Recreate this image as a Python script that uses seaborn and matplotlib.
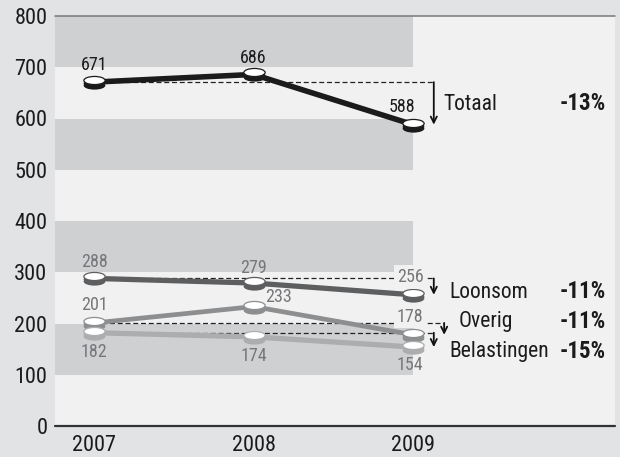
import numpy as np
import pandas as pd
import matplotlib
matplotlib.use("Agg")
import matplotlib.pyplot as plt
import matplotlib.transforms as mtransforms
from matplotlib.path import Path
from matplotlib import font_manager
import seaborn as sns

# ---------------- data ----------------
years = ["2007", "2008", "2009"]
series = ["Totaal", "Loonsom", "Overig", "Belastingen"]
totaal = [671, 686, 588]
loonsom = [288, 279, 256]
overig = [201, 233, 178]
belastingen = [182, 174, 154]
changes = ["-13%", "-11%", "-11%", "-15%"]
yticks = [0, 100, 200, 300, 400, 500, 600, 700, 800]

values = {"Totaal": totaal, "Loonsom": loonsom, "Overig": overig, "Belastingen": belastingen}

# ---------------- style ----------------
names = {f.name for f in font_manager.fontManager.ttflist}
FONT = "DejaVu Sans"
for cand in ["Roboto Condensed", "Archivo Narrow", "Barlow Semi Condensed", "Asap Condensed"]:
    if cand in names:
        FONT = cand
        break
sns.set_style("white")
plt.rcParams["font.family"] = [FONT, "DejaVu Sans"]

colors = {"Totaal": "#1b1b1b", "Loonsom": "#5d5e60", "Overig": "#8d8e90", "Belastingen": "#acadaf"}
label_colors = {"Totaal": "#1b1b1b", "Loonsom": "#76777a", "Overig": "#76777a", "Belastingen": "#76777a"}
lw = {"Totaal": 4.0, "Loonsom": 3.8, "Overig": 3.4, "Belastingen": 3.8}
OUTER = "#e2e3e5"
PANEL = "#f1f1f1"
BAND = "#cfd0d2"

fig = plt.figure(figsize=(6.2, 4.57), dpi=100, facecolor=OUTER)
ax = fig.add_axes([55 / 620, 31 / 457, 560 / 620, 410 / 457])
ax.set_facecolor(PANEL)

xs = np.arange(len(years))
ax.set_xlim(-0.2445, 3.266)
ax.set_ylim(0, 800)

# horizontal bands
for lo in [100, 300, 500, 700]:
    ax.fill_between([ax.get_xlim()[0], xs[-1]], lo, lo + 100, color=BAND, lw=0, zorder=0)

ax.axhline(800, color="#77787a", lw=1.1, zorder=1, clip_on=False)
ax.axhline(0, color="#333333", lw=1.6, zorder=1, clip_on=False)
for s in ax.spines.values():
    s.set_visible(False)

# dashed reference lines and arrows
arrow_x = {"Totaal": 2.13, "Loonsom": 2.13, "Overig": 2.195, "Belastingen": 2.13}
for name in series:
    v = values[name]
    ax.plot([xs[0], arrow_x[name]], [v[0], v[0]], ls=(0, (4, 2.2)), color="#222222", lw=0.9, zorder=1.5)
    ax.annotate("", xy=(arrow_x[name], v[-1]), xytext=(arrow_x[name], v[0]),
                arrowprops=dict(arrowstyle="->", color="#111111", lw=1.3,
                                shrinkA=0, shrinkB=0, mutation_scale=11), zorder=1.6)

# lines through seaborn
df = pd.DataFrame([(name, xs[i], values[name][i]) for name in series for i in range(len(years))],
                  columns=["serie", "x", "waarde"])
ell = Path.unit_circle().transformed(mtransforms.Affine2D().scale(1, 0.38))
for k, name in enumerate(series):
    sub = df[df["serie"] == name]
    sns.lineplot(data=sub, x="x", y="waarde", color=colors[name], lw=lw[name],
                 ax=ax, zorder=2 + k, legend=False)
    # coin-shaped markers
    for dy in (-1.0, -3.0):
        tr = mtransforms.offset_copy(ax.transData, fig=fig, x=0, y=dy, units="dots")
        ax.scatter(sub["x"], sub["waarde"], marker=ell, s=245, color=colors[name], lw=0,
                   transform=tr, zorder=2.1 + k)
    tr = mtransforms.offset_copy(ax.transData, fig=fig, x=0, y=2.0, units="dots")
    ax.scatter(sub["x"], sub["waarde"], marker=ell, s=235, facecolor="white",
               edgecolor=colors[name], lw=0.9, transform=tr, zorder=2.2 + k)

# value labels (offsets in pixels)
offsets = {
    "Totaal": [(0, 17), (0, 16), (-11, 18)],
    "Loonsom": [(0, 16), (0, 15), (-3, 18)],
    "Overig": [(0, 18), (25, 10), (-3, 18)],
    "Belastingen": [(0, -19), (0, -19), (-3, -18)],
}
for name in series:
    for i, v in enumerate(values[name]):
        dx, dy = offsets[name][i]
        kw = {}
        if i == len(years) - 1 and name in ("Loonsom", "Overig"):
            kw["bbox"] = dict(boxstyle="square,pad=0.15", fc=PANEL, ec="none")
        ax.annotate(str(v), xy=(xs[i], v), xytext=(dx, dy), textcoords="offset pixels",
                    ha="center", va="center", fontsize=13, color=label_colors[name],
                    zorder=10, **kw)

# series names and percentage change
name_pos = {"Totaal": (443, 104), "Loonsom": (449, 292), "Overig": (459, 322), "Belastingen": (449, 351)}
for name, ch in zip(series, changes):
    px, py = name_pos[name]
    fig.text(px / 620, 1 - py / 457, name, ha="left", va="center", fontsize=15.5, color="#1b1b1b")
    fig.text(606 / 620, 1 - py / 457, ch, ha="right", va="center", fontsize=16.5,
             fontweight="bold", color="#1b1b1b")

ax.set_xticks(xs)
ax.set_xticklabels(years)
ax.set_yticks(yticks)
ax.set_yticklabels([str(t) for t in yticks])
ax.tick_params(axis="both", length=0, labelsize=16, colors="#1b1b1b")
ax.tick_params(axis="y", pad=5.5)
ax.tick_params(axis="x", pad=6.5)
ax.set_xlabel("")
ax.set_ylabel("")

fig.savefig("out.png", dpi=100, facecolor=OUTER)
